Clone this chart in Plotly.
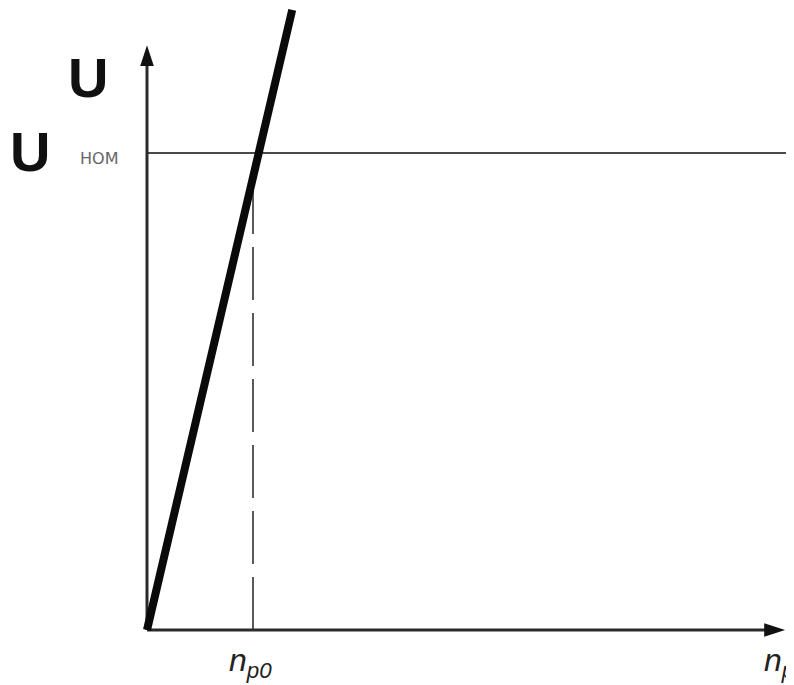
import plotly.graph_objects as go

# Data (units: n_p0 = 1, U_nom = 1)
line_n = [0.0, 1.37]
line_u = [0.0, 1.30]
u_nom = 1.0
n_p0 = 1.0
n_p0_u = 0.95
axis_x_end = 6.02
axis_y_end = 1.226

# page has an 8px body margin -> figure is placed at (8, 8)
OFF = 8
W, H = 794 - OFF, 685 - OFF
OX, OY = 147 - OFF, 630 - OFF
SX, SY = 106, 477

fig = go.Figure()

fig.add_trace(go.Scatter(x=[0, 6.4], y=[u_nom, u_nom], mode="lines",
                         line=dict(color="#4a4a4a", width=2.2), hoverinfo="skip"))
fig.add_trace(go.Scatter(x=[n_p0, n_p0], y=[0, n_p0_u], mode="lines",
                         line=dict(color="#5a5a5a", width=2, dash="53px,13px"), hoverinfo="skip"))
fig.add_trace(go.Scatter(x=[0, axis_x_end - 0.1], y=[0, 0], mode="lines",
                         line=dict(color="#2a2a2a", width=3), hoverinfo="skip"))
fig.add_trace(go.Scatter(x=[0, 0], y=[0, axis_y_end - 0.03], mode="lines",
                         line=dict(color="#2a2a2a", width=3), hoverinfo="skip"))
fig.add_trace(go.Scatter(x=[axis_x_end, 0], y=[0, axis_y_end], mode="markers",
                         marker=dict(symbol="arrow", size=22, angle=[90, 0], color="#111",
                                     line=dict(width=0)), hoverinfo="skip"))
fig.add_trace(go.Scatter(x=line_n, y=line_u, mode="lines",
                         line=dict(color="#0a0a0a", width=8), hoverinfo="skip"))

xr = [-OX / SX, (W - OX) / SX]
yr = [-(H - OY) / SY, OY / SY]

def xp(px):
    return (px - OFF - OX) / SX

def yp(py):
    return (OY - (py - OFF)) / SY

ann = [
    dict(x=xp(88), y=yp(77), text="<b>U</b>", font=dict(size=56, family="Liberation Sans", color="#111")),
    dict(x=xp(30), y=yp(151), text="<b>U</b>", font=dict(size=56, family="Liberation Sans", color="#111")),
    dict(x=xp(99), y=yp(158), text="НОМ", font=dict(size=16, family="DejaVu Sans", color="#666")),
    dict(x=xp(250), y=yp(662), text="<i>n</i><sub><i>p0</i></sub>", font=dict(size=32, family="Liberation Sans", color="#222")),
    dict(x=xp(779), y=yp(662), text="<i>n</i><sub><i>p</i></sub>", font=dict(size=32, family="Liberation Sans", color="#222")),
]
for a in ann:
    a.update(xref="x", yref="y", showarrow=False)

fig.update_layout(
    width=W, height=H,
    margin=dict(l=0, r=0, t=0, b=0),
    paper_bgcolor="white", plot_bgcolor="white",
    showlegend=False,
    xaxis=dict(range=xr, visible=False, fixedrange=True),
    yaxis=dict(range=yr, visible=False, fixedrange=True),
    annotations=ann,
)
fig.write_html("out.html")
